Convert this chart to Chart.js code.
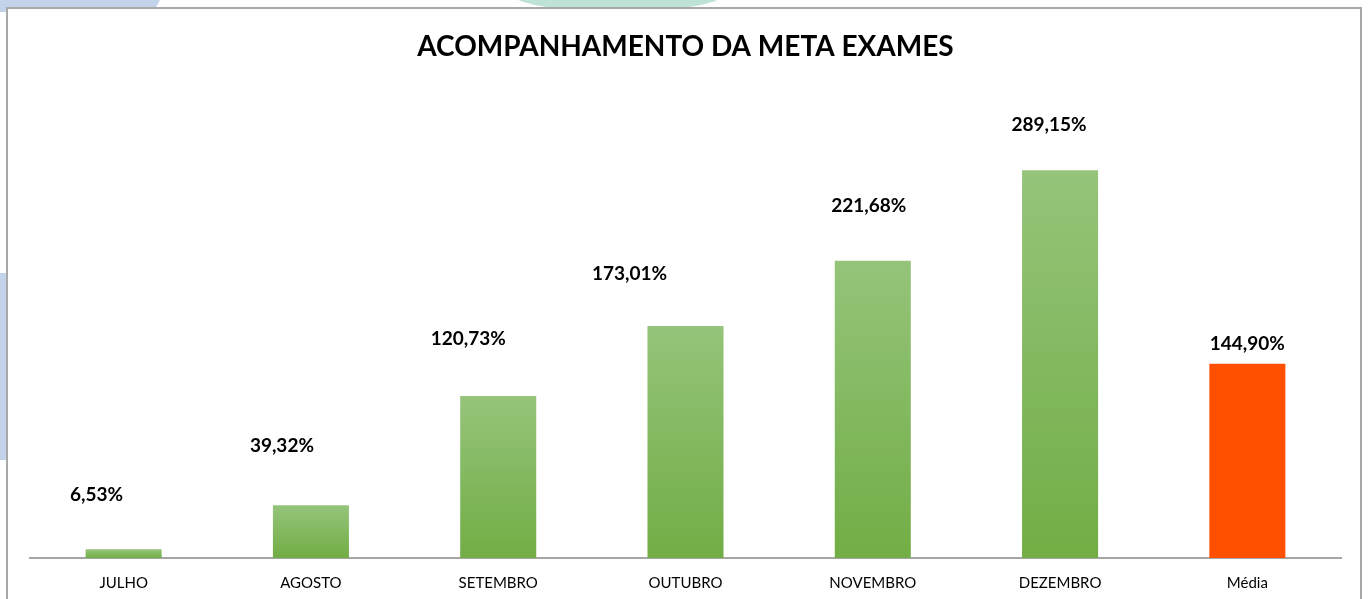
<!DOCTYPE html>
<html>
<head>
<meta charset="utf-8">
<script src="https://cdn.jsdelivr.net/npm/chart.js@4.4.1/dist/chart.umd.min.js"></script>
<style>
  html, body { margin:0; padding:0; background:#ffffff; width:1370px; height:599px; overflow:hidden; }
  .deco { position:absolute; }
  #box { position:absolute; left:6px; top:7px; width:1356px; height:620px; border:2px solid #a8a8a8; background:#ffffff; box-sizing:border-box; }
  #wrap { position:absolute; left:0; top:0; width:1370px; height:616px; }
</style>
</head>
<body>
<div class="deco" style="left:0;top:0;width:160px;height:12px;background:#c3d3e9;clip-path:polygon(0 0,100% 0,96% 100%,0 100%);"></div>
<div class="deco" style="left:508px;top:-40px;width:220px;height:52px;background:#bfe2d6;border-radius:0 0 50% 50% / 0 0 40% 40%;"></div>
<div class="deco" style="left:0;top:273px;width:10px;height:187px;background:#c3d3e9;"></div>
<div id="box"></div>
<div id="wrap"><canvas id="c" width="1370" height="616"></canvas></div>
<script>
const categories = ['JULHO','AGOSTO','SETEMBRO','OUTUBRO','NOVEMBRO','DEZEMBRO','Média'];
const values = [6.53, 39.32, 120.73, 173.01, 221.68, 289.15, 144.90];
const labelTexts = ['6,53%','39,32%','120,73%','173,01%','221,68%','289,15%','144,90%'];
const labelOffsets = [[-27,-54],[-29,-59],[-30,-57],[-56,-52],[-4,-55],[-11,-45],[0,-20]];
const titleText = 'ACOMPANHAMENTO DA META EXAMES';

function barColor(ctx) {
  const chart = ctx.chart;
  const i = ctx.dataIndex;
  if (i === categories.length - 1) return '#ff5000';
  if (!chart.chartArea || !chart.scales.y) return '#84b95c';
  const y = chart.scales.y;
  const top = y.getPixelForValue(values[i]);
  const base = y.getPixelForValue(0);
  const g = chart.ctx.createLinearGradient(0, top, 0, base);
  g.addColorStop(0, '#95c47a');
  g.addColorStop(1, '#72ad45');
  return g;
}

const labelPlugin = {
  id: 'manualLabels',
  afterDatasetsDraw(chart) {
    const ctx = chart.ctx;
    const meta = chart.getDatasetMeta(0);
    ctx.save();
    ctx.font = 'bold 19px Lato';
    ctx.fillStyle = '#000000';
    ctx.textAlign = 'center';
    ctx.textBaseline = 'middle';
    meta.data.forEach((bar, i) => {
      const off = labelOffsets[i];
      ctx.fillText(labelTexts[i], bar.x + off[0], bar.y + off[1]);
    });
    ctx.restore();
  }
};

new Chart(document.getElementById('c'), {
  type: 'bar',
  data: {
    labels: categories,
    datasets: [{
      data: values,
      backgroundColor: barColor,
      borderWidth: 0,
      categoryPercentage: 1.0,
      barPercentage: 0.406
    }]
  },
  options: {
    responsive: false,
    animation: false,
    devicePixelRatio: 1,
    layout: { padding: { left: 30, right: 29, top: 0, bottom: 8 } },
    plugins: {
      legend: { display: false },
      tooltip: { enabled: false },
      title: {
        display: true,
        text: titleText,
        color: '#000000',
        font: { family: 'Lato', size: 28, weight: 'bold', lineHeight: 1.2 },
        padding: { top: 30, bottom: 25 }
      }
    },
    scales: {
      x: {
        grid: { display: false, drawTicks: false },
        border: { display: true, color: '#a6a6a6', width: 2 },
        ticks: { color: '#000000', font: { family: 'Lato', size: 15 }, padding: 16, maxRotation: 0 }
      },
      y: {
        display: false,
        min: 0,
        max: 350
      }
    }
  },
  plugins: [labelPlugin]
});
</script>
</body>
</html>
